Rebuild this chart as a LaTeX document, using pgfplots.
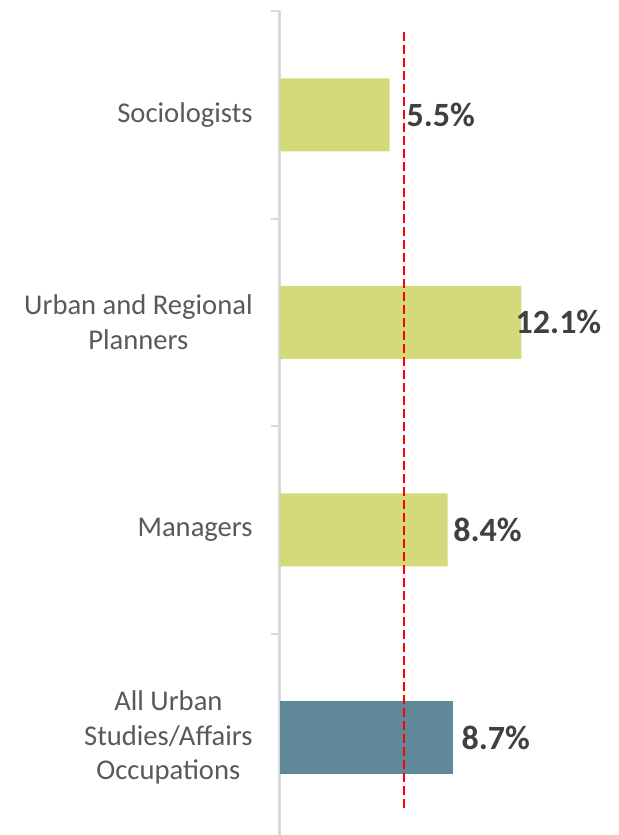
\documentclass[border=0pt]{standalone}
\usepackage{fontspec}
\setmainfont{Carlito}
\usepackage{pgfplots}
\pgfplotsset{compat=1.18}
\definecolor{bargreen}{HTML}{D4D97A}
\definecolor{barblue}{HTML}{5F8899}
\definecolor{axisgrey}{HTML}{D9D9D9}
\definecolor{labelgrey}{HTML}{595959}
\definecolor{valgrey}{HTML}{404040}
\begin{document}
\begin{tikzpicture}
\begin{axis}[
  at={(0,0)}, anchor=south west,
  scale only axis, width=169.5pt, height=412pt,
  xmin=0, xmax=17, ymin=-0.47, ymax=3.5,
  axis x line=none, axis y line*=left,
  y axis line style={draw=axisgrey, line width=1.5pt},
  xtick=\empty,
  ytick={0,1,2,3},
  yticklabels={{All Urban\\Studies/Affairs\\Occupations}, Managers, {Urban and Regional\\Planners}, Sociologists},
  major tick length=0pt,
  minor ytick={0.5,1.5,2.5,3.5},
  minor tick length=4.5pt,
  tick align=outside,
  minor tick style={axisgrey, line width=1pt},
  yticklabel style={align=center, inner sep=0pt, xshift=-13.5pt,
    font=\fontsize{14.3}{17.2}\selectfont, text=labelgrey},
  clip=false
]
% category bars
\addplot[xbar, bar width=36.5pt, bar shift=0pt, fill=bargreen, draw=none]
  coordinates {(8.4,1) (12.1,2) (5.5,3)};
\addplot[xbar, bar width=36.5pt, bar shift=0pt, fill=barblue, draw=none]
  coordinates {(8.7,0)};
% reference line
\addplot[red, line width=1.1pt, dash pattern=on 4.5pt off 2pt]
  coordinates {(6.2,-0.342) (6.2,3.404)};
% value labels (x = where the label starts)
\addplot[draw=none, mark=none,
  nodes near coords={\pgfmathprintnumber[fixed,precision=1,fixed zerofill,assume math mode=true]{\pgfplotspointmeta}\%},
  point meta=\thisrow{v},
  nodes near coords style={anchor=west, inner xsep=0pt,
    font=\bfseries\fontsize{17}{20}\selectfont, text=valgrey}]
  table {
x y v
9.09 0 8.7
8.67 1 8.4
11.80 2 12.1
6.33 3 5.5
};
\end{axis}
\pgfresetboundingbox
\path[use as bounding box] (-140pt,0) rectangle (169.5pt,417.5pt);
\end{tikzpicture}
\end{document}
